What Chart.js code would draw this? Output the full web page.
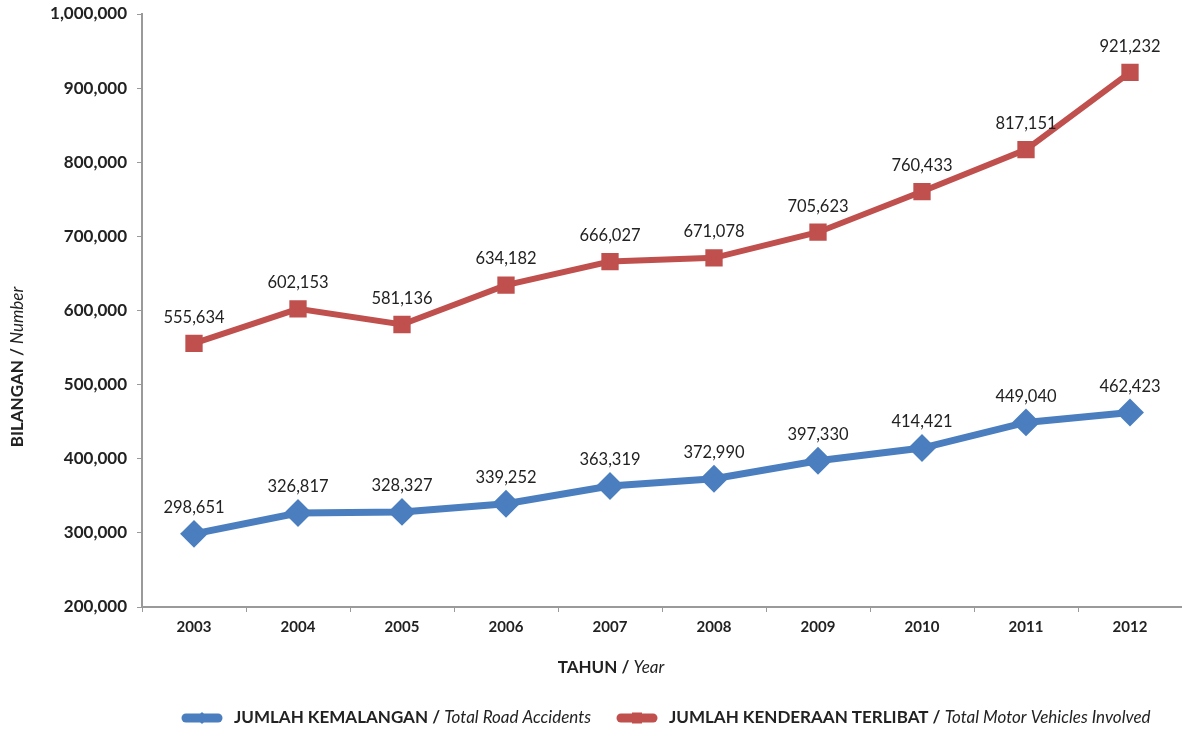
<!DOCTYPE html>
<html>
<head>
<meta charset="utf-8">
<script src="https://cdn.jsdelivr.net/npm/chart.js@4/dist/chart.umd.min.js"></script>
<style>
  html, body { margin: 0; padding: 0; background: #fff; overflow: hidden; }
  canvas { display: block; }
</style>
</head>
<body>
<canvas id="chart" width="1182" height="729"></canvas>
<script>
const years = ["2003", "2004", "2005", "2006", "2007", "2008", "2009", "2010", "2011", "2012"];
const accidents = [298651, 326817, 328327, 339252, 363319, 372990, 397330, 414421, 449040, 462423];
const vehicles = [555634, 602153, 581136, 634182, 666027, 671078, 705623, 760433, 817151, 921232];
const yTicks = [200000, 300000, 400000, 500000, 600000, 700000, 800000, 900000, 1000000];

const FONT = "Lato, 'Open Sans', sans-serif";
const BLUE = "#4a7ebf";
const RED = "#c0504d";

function fmt(v) {
  return v.toLocaleString("en-US");
}

function mixedText(ctx, bold, italic, x, y, size) {
  ctx.font = "bold " + size + "px " + FONT;
  ctx.fillText(bold, x, y);
  const w = ctx.measureText(bold).width;
  ctx.font = "italic " + size + "px " + FONT;
  ctx.fillText(italic, x + w, y);
}

function mixedWidth(ctx, bold, italic, size) {
  ctx.font = "bold " + size + "px " + FONT;
  const a = ctx.measureText(bold).width;
  ctx.font = "italic " + size + "px " + FONT;
  return a + ctx.measureText(italic).width;
}

const extras = {
  id: "extras",
  afterDatasetsDraw(chart) {
    const ctx = chart.ctx;
    ctx.save();
    ctx.fillStyle = "#222";
    ctx.textAlign = "center";
    ctx.textBaseline = "middle";
    ctx.font = "16.5px " + FONT;
    chart.data.datasets.forEach(function (ds, i) {
      chart.getDatasetMeta(i).data.forEach(function (pt, j) {
        ctx.fillText(fmt(ds.data[j]), pt.x, pt.y - 26);
      });
    });

    // axis titles
    ctx.textAlign = "left";
    ctx.fillStyle = "#222";
    const xw = mixedWidth(ctx, "TAHUN / ", "Year", 17);
    mixedText(ctx, "TAHUN / ", "Year", 611 - xw / 2, 668, 17);

    ctx.save();
    ctx.translate(18, 367);
    ctx.rotate(-Math.PI / 2);
    const yw = mixedWidth(ctx, "BILANGAN / ", "Number", 17);
    mixedText(ctx, "BILANGAN / ", "Number", -yw / 2, 0, 17);
    ctx.restore();

    // legend
    const items = [
      { x: 182, color: BLUE, shape: "diamond", bold: "JUMLAH KEMALANGAN / ", italic: "Total Road Accidents" },
      { x: 617, color: RED, shape: "square", bold: "JUMLAH KENDERAAN TERLIBAT / ", italic: "Total Motor Vehicles Involved" }
    ];
    const ly = 718;
    items.forEach(function (it) {
      ctx.strokeStyle = it.color;
      ctx.fillStyle = it.color;
      ctx.lineWidth = 9;
      ctx.lineCap = "round";
      ctx.beginPath();
      ctx.moveTo(it.x + 4, ly);
      ctx.lineTo(it.x + 36, ly);
      ctx.stroke();
      if (it.shape === "diamond") {
        ctx.beginPath();
        ctx.moveTo(it.x + 20, ly - 6);
        ctx.lineTo(it.x + 26, ly);
        ctx.lineTo(it.x + 20, ly + 6);
        ctx.lineTo(it.x + 14, ly);
        ctx.closePath();
        ctx.fill();
      } else {
        ctx.fillRect(it.x + 15, ly - 5.5, 10, 11);
      }
      ctx.fillStyle = "#222";
      mixedText(ctx, it.bold, it.italic, it.x + 52, ly, 17);
    });
    ctx.restore();
  }
};

new Chart(document.getElementById("chart"), {
  type: "line",
  data: {
    labels: years,
    datasets: [
      {
        label: "JUMLAH KEMALANGAN / Total Road Accidents",
        data: accidents,
        borderColor: BLUE,
        backgroundColor: BLUE,
        borderWidth: 7,
        pointStyle: "rectRot",
        pointRadius: 9,
        pointHoverRadius: 9,
        tension: 0,
        fill: false
      },
      {
        label: "JUMLAH KENDERAAN TERLIBAT / Total Motor Vehicles Involved",
        data: vehicles,
        borderColor: RED,
        backgroundColor: RED,
        borderWidth: 6,
        pointStyle: "rect",
        pointRadius: 8,
        pointHoverRadius: 8,
        tension: 0,
        fill: false
      }
    ]
  },
  options: {
    responsive: false,
    animation: false,
    layout: { autoPadding: false, padding: { top: 14, right: 0, left: 0, bottom: 0 } },
    plugins: {
      legend: { display: false },
      tooltip: { enabled: false }
    },
    scales: {
      x: {
        offset: true,
        grid: {
          offset: true,
          drawOnChartArea: false,
          drawTicks: true,
          tickLength: 5,
          color: "#9a9a9a",
          lineWidth: 1
        },
        border: { color: "#9a9a9a", width: 2 },
        ticks: {
          color: "#222",
          font: { family: FONT, size: 15, weight: "bold" },
          padding: 6,
          maxRotation: 0
        },
        afterFit: function (scale) {
          scale.height = 122;
          scale.paddingLeft = 0;
          scale.paddingRight = 0;
        }
      },
      y: {
        min: 200000,
        max: 1000000,
        afterBuildTicks: function (scale) {
          scale.ticks = yTicks.map(function (v) { return { value: v }; });
        },
        grid: {
          drawOnChartArea: false,
          drawTicks: true,
          tickLength: 5,
          color: "#9a9a9a"
        },
        border: { color: "#9a9a9a", width: 2 },
        ticks: {
          color: "#222",
          font: { family: FONT, size: 17, weight: "bold" },
          padding: 10,
          callback: function (v) { return fmt(v); }
        },
        afterFit: function (scale) {
          scale.width = 142;
          scale.paddingTop = 0;
          scale.paddingBottom = 0;
        }
      }
    }
  },
  plugins: [extras]
});
</script>
</body>
</html>
